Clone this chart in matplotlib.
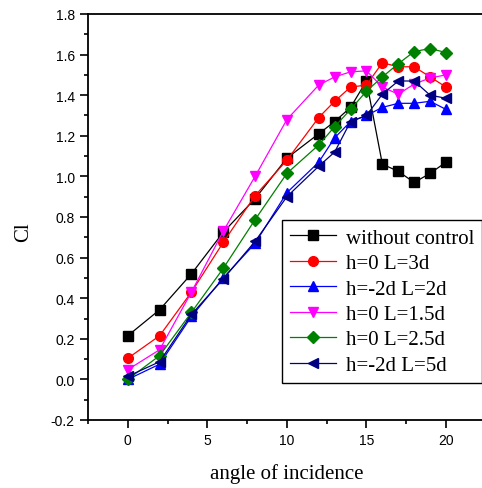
import matplotlib
matplotlib.use("Agg")
import matplotlib.pyplot as plt
from matplotlib.ticker import MultipleLocator

angle = [0, 2, 4, 6, 8, 10, 12, 13, 14, 15, 16, 17, 18, 19, 20]

without_control = [0.215, 0.343, 0.52, 0.725, 0.89, 1.09, 1.21, 1.27, 1.34, 1.47, 1.06, 1.025, 0.97, 1.015, 1.07]
h0_L3d = [0.104, 0.215, 0.43, 0.675, 0.905, 1.08, 1.29, 1.37, 1.44, 1.45, 1.56, 1.54, 1.54, 1.49, 1.44]
hm2_L2d = [0.0, 0.075, 0.31, 0.50, 0.67, 0.92, 1.07, 1.19, 1.27, 1.30, 1.34, 1.36, 1.36, 1.37, 1.33]
h0_L15d = [0.048, 0.146, 0.43, 0.73, 1.00, 1.28, 1.45, 1.49, 1.515, 1.52, 1.44, 1.405, 1.455, 1.485, 1.50]
h0_L25d = [0.0, 0.117, 0.33, 0.547, 0.787, 1.015, 1.155, 1.245, 1.33, 1.42, 1.49, 1.555, 1.615, 1.63, 1.61]
hm2_L5d = [0.015, 0.087, 0.32, 0.495, 0.68, 0.90, 1.05, 1.12, 1.27, 1.30, 1.405, 1.47, 1.47, 1.40, 1.385]

labels = ["without control", "h=0 L=3d", "h=-2d L=2d", "h=0 L=1.5d", "h=0 L=2.5d", "h=-2d L=5d"]
series = [without_control, h0_L3d, hm2_L2d, h0_L15d, h0_L25d, hm2_L5d]
colors = ["#000000", "#ff0000", "#0000ff", "#ff00ff", "#008000", "#000080"]
markers = ["s", "o", "^", "v", "D", "<"]
msizes = [6.5, 7, 7.5, 7.5, 6.5, 7.5]

fig = plt.figure(figsize=(4.82, 4.89), dpi=100)
ax = fig.add_axes([88/482, 68/489, (485.8-88)/482, (421-15)/489])

for y, lab, c, m, ms in zip(series, labels, colors, markers, msizes):
    ax.plot(angle, y, color=c, marker=m, markersize=ms, linewidth=0.9,
            markeredgecolor=c, markerfacecolor=c, label=lab)

ax.set_xlim(-2.5, 22.5)
ax.set_ylim(-0.2, 1.8)
ax.xaxis.set_minor_locator(MultipleLocator(2.5))
ax.yaxis.set_minor_locator(MultipleLocator(0.1))
ax.set_xticks([0, 5, 10, 15, 20])
ax.set_yticks([-0.2, 0.0, 0.2, 0.4, 0.6, 0.8, 1.0, 1.2, 1.4, 1.6, 1.8])
ax.set_yticklabels(["-0.2", "0.0", "0.2", "0.4", "0.6", "0.8", "1.0", "1.2", "1.4", "1.6", "1.8"])
ax.tick_params(which="both", direction="out", width=1.2, labelsize=10,
               labelfontfamily="Liberation Sans", colors="black")
ax.tick_params(which="major", length=5.5, pad=4)
ax.tick_params(which="minor", length=3)
for s in ax.spines.values():
    s.set_linewidth(1.3)

ax.set_xlabel("angle of incidence", fontfamily="Liberation Serif", fontsize=15)
ax.xaxis.set_label_coords(0.5, -0.105)
ax.set_ylabel("Cl", fontfamily="Liberation Serif", fontsize=15)
ax.yaxis.set_label_coords(-0.138, 0.466)

leg = ax.legend(loc="upper left", bbox_to_anchor=(0.488, 0.493), frameon=True,
                fancybox=False, edgecolor="black", framealpha=1,
                prop={"family": "Liberation Serif", "size": 15},
                handlelength=2.2, handletextpad=0.45, labelspacing=0.28,
                borderpad=0.4, borderaxespad=0)
leg.get_frame().set_linewidth(1.0)

fig.savefig("out.png", dpi=100)
